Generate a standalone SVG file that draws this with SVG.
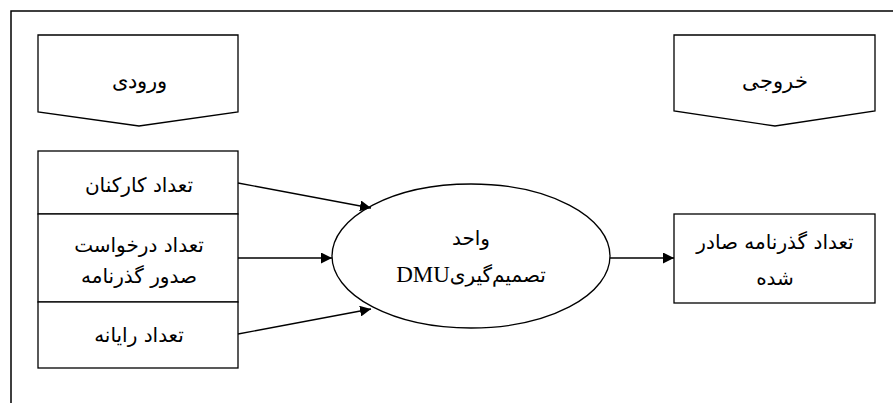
<svg xmlns="http://www.w3.org/2000/svg" width="893" height="403" viewBox="0 0 893 403">
<style>
.s{fill:#fff;stroke:#000;stroke-width:1.3}
.t{font-family:"DejaVu Sans","Noto Sans",sans-serif;font-size:20px;fill:#000;text-anchor:middle;direction:rtl}
.sf{font-family:"DejaVu Serif","Liberation Serif",serif;font-size:21px;fill:#000;text-anchor:middle;direction:rtl}
.c{stroke:#000;stroke-width:1.3;fill:none;marker-end:url(#a)}
</style>
<defs>
<marker id="a" viewBox="0 0 10 10" refX="10" refY="5" markerWidth="11" markerHeight="11" markerUnits="userSpaceOnUse" orient="auto">
<path d="M0,0 L10,5 L0,10 z" fill="#000"/>
</marker>
</defs>
<rect width="893" height="403" fill="#fff"/>
<path d="M11,403 V11 H893" fill="none" stroke="#000" stroke-width="1.5"/>
<g id="input">
<path class="s" d="M38,35 H238 V112 L139,126 L38,112 Z"/>
<text class="sf" x="139" y="88">ورودی</text>
</g>
<g id="output">
<path class="s" d="M674,35 H875 V111 L775,126 L674,111 Z"/>
<text class="sf" x="775" y="88">خروجی</text>
</g>
<g id="staff">
<rect class="s" x="38" y="151" width="200" height="63"/>
<text class="t" x="139" y="192">تعداد کارکنان</text>
</g>
<g id="requests">
<rect class="s" x="38" y="214" width="200" height="88"/>
<text class="t" x="139" y="252">تعداد درخواست</text>
<text class="t" x="139" y="283">صدور گذرنامه</text>
</g>
<g id="computers">
<rect class="s" x="38" y="302" width="200" height="66"/>
<text class="t" x="139" y="342">تعداد رایانه</text>
</g>
<g id="dmu">
<ellipse class="s" cx="471" cy="256" rx="139" ry="72"/>
<text class="t" x="471" y="245">واحد</text>
<text class="t" x="471" y="282">تصمیم‌گیری<tspan font-family="Liberation Serif,serif" font-size="23">DMU</tspan></text>
</g>
<g id="issued">
<rect class="s" x="674" y="214" width="201" height="89"/>
<text class="t" x="775" y="249">تعداد گذرنامه صادر</text>
<text class="t" x="775" y="285">شده</text>
</g>
<g id="connectors">
<line class="c" x1="238" y1="183" x2="371" y2="208"/>
<line class="c" x1="238" y1="258" x2="332" y2="258"/>
<line class="c" x1="238" y1="334" x2="371" y2="309"/>
<line class="c" x1="610" y1="258" x2="674" y2="258"/>
</g>
</svg>
